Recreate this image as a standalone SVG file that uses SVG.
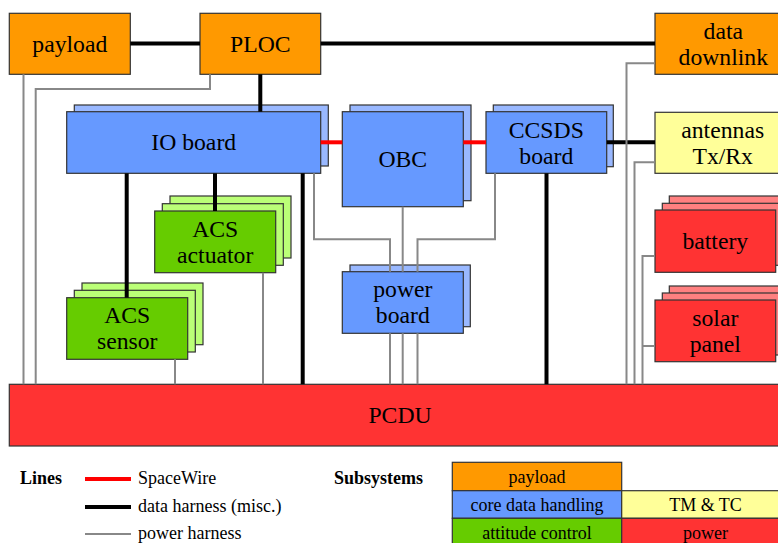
<svg xmlns="http://www.w3.org/2000/svg" width="778" height="543" viewBox="0 0 778 543" font-family="'Liberation Serif', 'Times New Roman', serif">
  <style>
    text { font-family: "Liberation Serif", "Times New Roman", serif; fill: #000; text-anchor: middle; }
    .lbl { font-size: 23.7px; }
    .leg { font-size: 18px; }
    .legl { font-size: 18px; text-anchor: start; }
    .bold { font-weight: bold; text-anchor: start; font-size: 18px; }
    rect { stroke: #333; stroke-width: 1.2; }
    .pay { fill: #ff9900; }
    .cdh { fill: #6699ff; }
    .cdh2 { fill: #99b8ff; }
    .acs { fill: #66cc00; }
    .acs2 { fill: #bbff77; }
    .pwr { fill: #ff3333; }
    .pwr2 { fill: #ff8080; }
    .tm { fill: #ffff99; }
    .data { stroke: #000; stroke-width: 4; fill: none; }
    .spw { stroke: #ff0000; stroke-width: 4; fill: none; }
    .ph { stroke: #888; stroke-width: 2; fill: none; }
  </style>

  <!-- nodes -->
  <g id="payload">
    <rect class="pay" x="9.3" y="13.3" width="121" height="61"/>
    <text class="lbl" x="69.8" y="51.5">payload</text>
  </g>
  <g id="ploc">
    <rect class="pay" x="200" y="13.3" width="120.7" height="61"/>
    <text class="lbl" x="260.3" y="51.5">PLOC</text>
  </g>
  <g id="data-downlink">
    <rect class="pay" x="655" y="13.3" width="136" height="61"/>
    <text class="lbl" x="723.3" y="38.5">data</text>
    <text class="lbl" x="723.3" y="64.5">downlink</text>
  </g>
  <g id="antennas">
    <rect class="tm" x="655" y="112.3" width="136" height="61"/>
    <text class="lbl" x="722.7" y="137.5">antennas</text>
    <text class="lbl" x="722.7" y="163.5">Tx/Rx</text>
  </g>
  <g id="io-board">
    <rect class="cdh2" x="74.3" y="105" width="254" height="61"/>
    <rect class="cdh" x="66.7" y="111.7" width="254" height="61.6"/>
    <text class="lbl" x="193.7" y="150.3">IO board</text>
  </g>
  <g id="obc">
    <rect class="cdh2" x="350" y="105" width="121" height="95.7"/>
    <rect class="cdh" x="342.3" y="111.7" width="121" height="95"/>
    <text class="lbl" x="402.8" y="167">OBC</text>
  </g>
  <g id="ccsds-board">
    <rect class="cdh2" x="493.3" y="105" width="120" height="61.7"/>
    <rect class="cdh" x="486" y="111.7" width="120.7" height="61.6"/>
    <text class="lbl" x="546.3" y="137.5">CCSDS</text>
    <text class="lbl" x="546.3" y="163.5">board</text>
  </g>
  <g id="power-board">
    <rect class="cdh2" x="350" y="265" width="120.3" height="61.7"/>
    <rect class="cdh" x="342.3" y="271.7" width="121" height="61.6"/>
    <text class="lbl" x="402.8" y="297.3">power</text>
    <text class="lbl" x="402.8" y="323.3">board</text>
  </g>
  <g id="acs-actuator">
    <rect class="acs2" x="170" y="196" width="121" height="62"/>
    <rect class="acs2" x="162.3" y="203.7" width="121" height="61.6"/>
    <rect class="acs" x="154.7" y="211" width="121" height="61.7"/>
    <text class="lbl" x="215.2" y="236.6">ACS</text>
    <text class="lbl" x="215.2" y="262.6">actuator</text>
  </g>
  <g id="acs-sensor">
    <rect class="acs2" x="82" y="283" width="121" height="61.7"/>
    <rect class="acs2" x="74.3" y="290.3" width="121" height="61.7"/>
    <rect class="acs" x="66.7" y="297.7" width="121" height="61.6"/>
    <text class="lbl" x="127.2" y="323.3">ACS</text>
    <text class="lbl" x="127.2" y="349.3">sensor</text>
  </g>
  <g id="battery">
    <rect class="pwr2" x="669.3" y="196" width="121" height="62"/>
    <rect class="pwr2" x="662.3" y="203.3" width="121" height="62"/>
    <rect class="pwr" x="655" y="210" width="120.7" height="62.3"/>
    <text class="lbl" x="715.3" y="249">battery</text>
  </g>
  <g id="solar-panel">
    <rect class="pwr2" x="669.3" y="286" width="121" height="62"/>
    <rect class="pwr2" x="662.3" y="293" width="121" height="62"/>
    <rect class="pwr" x="655" y="300" width="120.7" height="61.7"/>
    <text class="lbl" x="715.3" y="326">solar</text>
    <text class="lbl" x="715.3" y="352">panel</text>
  </g>
  <g id="pcdu">
    <rect class="pwr" x="9.3" y="384.3" width="782" height="61.7"/>
    <text class="lbl" x="400" y="423">PCDU</text>
  </g>

  <!-- connectors -->
  <g id="connectors">
    <!-- data harness -->
    <path class="data" d="M130.3 43.5H200"/>
    <path class="data" d="M320.7 43.5H655"/>
    <path class="data" d="M260.3 74.3V111.7"/>
    <path class="data" d="M126.7 173.3V297.7"/>
    <path class="data" d="M215 173.3V211"/>
    <path class="data" d="M302.7 173.3V384.3"/>
    <path class="data" d="M546.5 173.3V384.3"/>
    <path class="data" d="M606.7 142.3H655"/>
    <!-- power harness -->
    <path class="ph" d="M23.5 74.3V384.3"/>
    <path class="ph" d="M210 74.3V89H35.7V384.3"/>
    <path class="ph" d="M314 173.3V239.3H390V271.7"/>
    <path class="ph" d="M402.7 206.7V271.7"/>
    <path class="ph" d="M495 173.3V239.3H417.5V271.7"/>
    <path class="ph" d="M390 333.3V384.3M402.7 333.3V384.3M417.5 333.3V384.3"/>
    <path class="ph" d="M263 272.7V384.3"/>
    <path class="ph" d="M175 359.3V384.3"/>
    <path class="ph" d="M655 63.3H626.5V384.3"/>
    <path class="ph" d="M655 162.3H634.5V384.3"/>
    <path class="ph" d="M655 256H642.5V384.3"/>
    <path class="ph" d="M655 346H642.5"/>
    <!-- SpaceWire -->
    <path class="spw" d="M320.7 142.3H342.3"/>
    <path class="spw" d="M463.3 142.3H486"/>
  </g>

  <!-- legend: line types -->
  <g id="legend-lines">
    <text class="bold" x="20" y="484">Lines</text>
    <path class="spw" d="M85 479H131"/>
    <text class="legl" x="138" y="484">SpaceWire</text>
    <path class="data" d="M85 507H131"/>
    <text class="legl" x="138" y="512">data harness (misc.)</text>
    <path class="ph" d="M85 534H131"/>
    <text class="legl" x="138" y="539">power harness</text>
  </g>

  <!-- legend: subsystem colours -->
  <g id="legend-subsystems">
    <text class="bold" x="334" y="484">Subsystems</text>
    <rect class="pay" x="452.3" y="462.3" width="169.4" height="28.4"/>
    <text class="leg" x="537" y="482.5">payload</text>
    <rect class="cdh" x="452.3" y="490.7" width="169.4" height="27.6"/>
    <text class="leg" x="537" y="510.5">core data handling</text>
    <rect class="acs" x="452.3" y="518.3" width="169.4" height="28"/>
    <text class="leg" x="537" y="538.5">attitude control</text>
    <rect class="tm" x="621.7" y="490.7" width="169.4" height="27.6"/>
    <text class="leg" x="705.5" y="510.5">TM &amp; TC</text>
    <rect class="pwr" x="621.7" y="518.3" width="169.4" height="28"/>
    <text class="leg" x="705.5" y="538.5">power</text>
  </g>
</svg>
